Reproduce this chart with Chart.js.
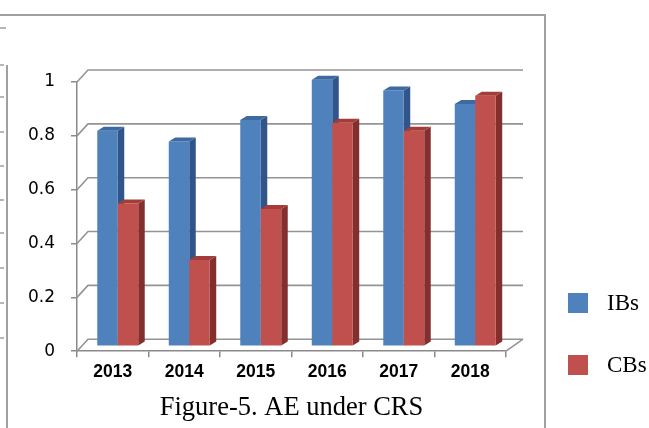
<!DOCTYPE html>
<html>
<head>
<meta charset="utf-8">
<script src="https://cdn.jsdelivr.net/npm/chart.js@4.4.0/dist/chart.umd.min.js"></script>
<style>
  html, body { margin: 0; padding: 0; background: #fff; }
</style>
</head>
<body>
<canvas id="aeChart" width="649" height="428"></canvas>
<script>
// values
const years = ['2013', '2014', '2015', '2016', '2017', '2018'];
const ibValues = [0.80, 0.76, 0.84, 0.99, 0.95, 0.90];
const cbValues = [0.53, 0.32, 0.51, 0.83, 0.80, 0.93];
const seriesNames = ['IBs', 'CBs'];
const yTickLabels = ['0', '0.2', '0.4', '0.6', '0.8', '1'];
const chartTitle = 'Figure-5. AE under CRS';

// colours of the three visible faces of each bar
const faces = [
    { front: '#4F81BD', top: '#3E69A2', side: '#30558A' },
    { front: '#C0504D', top: '#A43D3A', side: '#832F2D' }
];
const lineGray = '#949494';

// fake 3D: back wall offset, bar side/top depth, bars stand half way in
const wallDepth = { left: 11, right: 17, up: 12 };
const barDepth = { x: 6.5, y: 4 };
const barShift = { x: 5, y: -5 };

function fillPoly(ctx, pts, color) {
    ctx.fillStyle = color;
    ctx.beginPath();
    ctx.moveTo(pts[0][0], pts[0][1]);
    for (let k = 1; k < pts.length; k++) ctx.lineTo(pts[k][0], pts[k][1]);
    ctx.closePath();
    ctx.fill();
}

// the page frame pieces around the chart
const framePlugin = {
    id: 'frame',
    beforeDraw(chart) {
        const ctx = chart.ctx;
        ctx.save();
        ctx.strokeStyle = '#a0a0a0';
        ctx.lineWidth = 2;
        ctx.beginPath();
        ctx.moveTo(0, 15);
        ctx.lineTo(545, 15);
        ctx.lineTo(545, 428);
        ctx.moveTo(7, 65);
        ctx.lineTo(7, 428);
        ctx.stroke();
        ctx.lineWidth = 1.5;
        ctx.beginPath();
        ctx.moveTo(0, 28);
        ctx.lineTo(6, 28);
        [65, 97, 132, 166, 200, 233, 268, 303, 338].forEach(py => {
            ctx.moveTo(0, py);
            ctx.lineTo(4, py);
        });
        ctx.stroke();
        ctx.restore();
    }
};

// back wall, floor and the 3D bars
const bars3dPlugin = {
    id: 'bars3d',
    beforeDatasetsDraw(chart) {
        const { ctx, chartArea: a, scales: { y } } = chart;
        ctx.save();
        ctx.strokeStyle = lineGray;
        ctx.lineWidth = 1.6;
        y.ticks.forEach(t => {
            const py = y.getPixelForValue(t.value);
            ctx.beginPath();
            ctx.moveTo(a.left, py);
            ctx.lineTo(a.left + wallDepth.left, py - wallDepth.up);
            ctx.lineTo(a.right + wallDepth.right, py - wallDepth.up);
            ctx.stroke();
        });
        ctx.beginPath();
        ctx.moveTo(a.right, a.bottom);
        ctx.lineTo(a.right + wallDepth.right, a.bottom - wallDepth.up);
        ctx.stroke();

        const metas = chart.data.datasets.map((d, i) => chart.getDatasetMeta(i));
        for (let j = 0; j < years.length; j++) {
            metas.forEach((meta, i) => {
                const el = meta.data[j];
                const f = faces[i];
                const x0 = el.x - el.width / 2 + barShift.x;
                const x1 = el.x + el.width / 2 + barShift.x;
                const top = el.y + barShift.y;
                const bot = el.base + barShift.y;
                fillPoly(ctx, [[x1, top], [x1 + barDepth.x, top - barDepth.y],
                    [x1 + barDepth.x, bot - barDepth.y], [x1, bot]], f.side);
                fillPoly(ctx, [[x0, top], [x1, top], [x1, bot], [x0, bot]], f.front);
                fillPoly(ctx, [[x0, top], [x1, top], [x1 + barDepth.x, top - barDepth.y],
                    [x0 + barDepth.x, top - barDepth.y]], f.top);
            });
        }
        ctx.restore();
        return false;
    }
};

// legend sits outside the frame on the right
const legendPlugin = {
    id: 'sideLegend',
    afterDraw(chart) {
        const ctx = chart.ctx;
        ctx.save();
        ctx.font = '23px "Liberation Serif"';
        ctx.textBaseline = 'middle';
        ctx.textAlign = 'left';
        chart.data.datasets.forEach((d, i) => {
            const top = 293 + i * 62;
            ctx.fillStyle = d.backgroundColor;
            ctx.fillRect(568, top, 20, 20);
            ctx.fillStyle = '#000';
            ctx.fillText(d.label, 607, top + 11);
        });
        ctx.restore();
    }
};

const ctx = document.getElementById('aeChart').getContext('2d');

const myChart = new Chart(ctx, {
    type: 'bar',
    data: {
        labels: years,
        datasets: [
            { label: seriesNames[0], data: ibValues, backgroundColor: faces[0].front },
            { label: seriesNames[1], data: cbValues, backgroundColor: faces[1].front }
        ]
    },
    options: {
        responsive: false,
        animation: false,
        categoryPercentage: 0.573,
        barPercentage: 1,
        layout: {
            padding: { top: 82, right: 143, bottom: 4, left: 0 }
        },
        plugins: {
            legend: { display: false },
            tooltip: { enabled: false },
            title: {
                display: true,
                text: chartTitle,
                position: 'bottom',
                fullSize: false,
                color: '#000',
                font: { family: 'Liberation Serif', size: 26.5, weight: 'normal' },
                padding: 0
            }
        },
        scales: {
            x: {
                grid: {
                    drawOnChartArea: false,
                    tickLength: 6,
                    color: '#8a8a8a',
                    lineWidth: 1.5,
                    offset: true
                },
                border: { color: '#8a8a8a', width: 1.5 },
                ticks: {
                    color: '#000',
                    padding: 4,
                    maxRotation: 0,
                    font: { family: 'Liberation Sans', size: 17.5, weight: 'bold' }
                },
                afterFit(scale) { scale.height = 41; }
            },
            y: {
                min: 0,
                max: 1,
                grid: {
                    drawOnChartArea: false,
                    tickLength: 6,
                    color: '#8a8a8a',
                    lineWidth: 1.5
                },
                border: { color: '#8a8a8a', width: 1.5 },
                ticks: {
                    stepSize: 0.2,
                    color: '#000',
                    padding: 16,
                    font: { family: 'DejaVu Sans', size: 17 },
                    callback: (v, i) => yTickLabels[i]
                },
                afterFit(scale) { scale.width = 77; }
            }
        }
    },
    plugins: [framePlugin, bars3dPlugin, legendPlugin]
});
</script>
</body>
</html>
